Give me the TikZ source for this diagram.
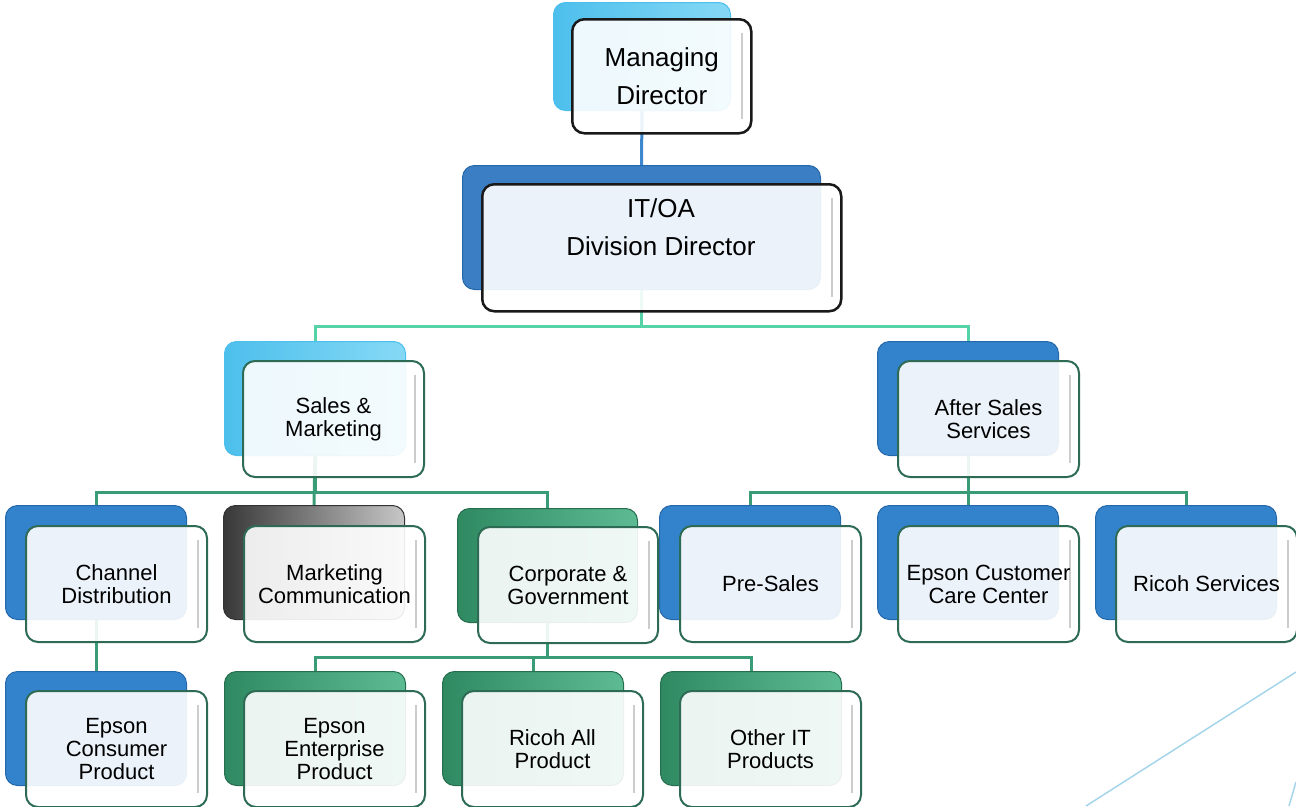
\documentclass[tikz,border=0pt]{standalone}
\usepackage{fontspec}
\setmainfont{Liberation Sans}
\pgfdeclarelayer{bg}
\pgfsetlayers{bg,main}
\definecolor{cyanL}{HTML}{4DBFEC}
\definecolor{cyanR}{HTML}{86D9F5}
\definecolor{blueb}{HTML}{3383CC}
\definecolor{bluedk}{HTML}{2568AA}
\definecolor{itblue}{HTML}{3B7EC3}
\definecolor{greenL}{HTML}{2F8A62}
\definecolor{greenR}{HTML}{5DBB93}
\definecolor{frontgr}{HTML}{2E6B55}
\definecolor{connB}{HTML}{3D87CE}
\definecolor{connL}{HTML}{55D3A6}
\definecolor{connG}{HTML}{3A9C76}
\definecolor{diagc}{HTML}{A5D5EA}
\tikzset{
  backbox/.style={rounded corners=12pt, anchor=north west, minimum width=181pt, minimum height=114pt, inner sep=0pt},
  bluebox/.style={backbox, fill=blueb, draw=bluedk, line width=1pt},
  cyanbox/.style={backbox, left color=cyanL, right color=cyanR, draw=cyanL, line width=1pt},
  greenbox/.style={backbox, left color=greenL, right color=greenR, draw=greenL!80!black, line width=1pt},
  graybox/.style={backbox, left color=black!78, right color=black!22, draw=black!80, line width=1pt},
  frontbox/.style={rounded corners=12pt, anchor=north west, minimum width=181pt, minimum height=116pt,
    draw=frontgr, line width=2pt, fill=white, fill opacity=0.9, text opacity=1, draw opacity=1,
    align=center, font=\fontsize{22}{23}\selectfont, inner sep=0pt,
    path picture={\draw[black!20, line width=2pt, draw opacity=1]
      ([xshift=-9pt,yshift=-14pt]path picture bounding box.north east) --
      ([xshift=-9pt,yshift=14pt]path picture bounding box.south east);}},
  bigfront/.style={frontbox, draw=black!90, line width=2.5pt, font=\fontsize{26}{38}\selectfont},
  connblue/.style={draw=connB, line width=3pt},
  connlight/.style={draw=connL, line width=3pt},
  conngreen/.style={draw=connG, line width=3pt},
  diagline/.style={draw=diagc, line width=1.5pt}
}
\begin{document}
\begin{tikzpicture}[x=1pt,y=-1pt]
\useasboundingbox (0,0) rectangle (1296,806);
% ---- back boxes
\node[cyanbox, minimum width=177pt, minimum height=108pt] (mdB) at (553,2) {};
\node[backbox, fill=itblue, draw=bluedk, line width=1pt, minimum width=358pt, minimum height=124pt] (itB) at (462,165) {};
\node[cyanbox] (salB) at (224,341) {};
\node[bluebox] (aftB) at (877,341) {};
\node[bluebox] (chB) at (5,505) {};
\node[graybox] (mcB) at (223,505) {};
\node[greenbox, minimum width=180pt] (coB) at (457,508) {};
\node[bluebox] (psB) at (659,505) {};
\node[bluebox] (ecB) at (877,505) {};
\node[bluebox] (rsB) at (1095,505) {};
\node[bluebox] (epcB) at (5,671) {};
\node[greenbox] (epeB) at (224,671) {};
\node[greenbox] (raB) at (442,671) {};
\node[greenbox] (otB) at (660,671) {};
% ---- front boxes
\node[bigfront, minimum width=179pt, minimum height=114pt] (md) at (571,18) {Managing\\Director};
\node[bigfront, minimum width=359pt, minimum height=127pt] (it) at (481,183) {};
\node[font=\fontsize{26}{38}\selectfont, align=center] (itT) at (661,227) {IT/OA\\Division Director};
\node[frontbox] (sal) at (242,360) {Sales \&\\Marketing};
\node[frontbox] (aft) at (897,360) {After Sales\\Services};
\node[frontbox] (ch) at (25,525) {Channel\\Distribution};
\node[frontbox] (mc) at (243,525) {Marketing\\Communication};
\node[frontbox, minimum width=180pt] (co) at (477,526) {Corporate \&\\Government};
\node[frontbox] (ps) at (679,525) {Pre-Sales};
\node[frontbox] (ec) at (897,525) {Epson Customer\\Care Center};
\node[frontbox] (rs) at (1115,525) {Ricoh Services};
\node[frontbox] (epc) at (25,690) {Epson\\Consumer\\Product};
\node[frontbox] (epe) at (243,690) {Epson\\Enterprise\\Product};
\node[frontbox] (ra) at (461,690) {Ricoh All\\Product};
\node[frontbox] (ot) at (679,690) {Other IT\\Products};
% ---- connectors
\begin{pgfonlayer}{bg}
\draw[connblue] (mdB.south) -- (itB.north);
\draw[connlight] (itB.south) -- ++(0,36) -| (salB.north);
\draw[connlight] (itB.south) -- ++(0,36) -| (aftB.north);
\draw[conngreen] (salB.south) -- ++(0,36) -| (chB.north);
\draw[conngreen] (salB.south) -- (mcB.north);
\draw[conngreen] (salB.south) -- ++(0,36) -| (coB.north);
\draw[conngreen] (aftB.south) -- ++(0,36) -| (psB.north);
\draw[conngreen] (aftB.south) -- (ecB.north);
\draw[conngreen] (aftB.south) -- ++(0,36) -| (rsB.north);
\draw[conngreen] (chB.south) -- (epcB.north);
\draw[conngreen] (coB.south) -- ++(0,34) -| (epeB.north);
\draw[conngreen] (coB.south) -- ++(0,34) -| (raB.north);
\draw[conngreen] (coB.south) -- ++(0,34) -| (otB.north);
\end{pgfonlayer}
% ---- decorative diagonal
\coordinate (d1) at (1296,672);
\coordinate (d2) at (1086,806);
\coordinate (d3) at (1296,782);
\coordinate (d4) at (1289,806);
\draw[diagline] (d1) -- (d2);
\draw[diagline] (d3) -- (d4);
\end{tikzpicture}
\end{document}
